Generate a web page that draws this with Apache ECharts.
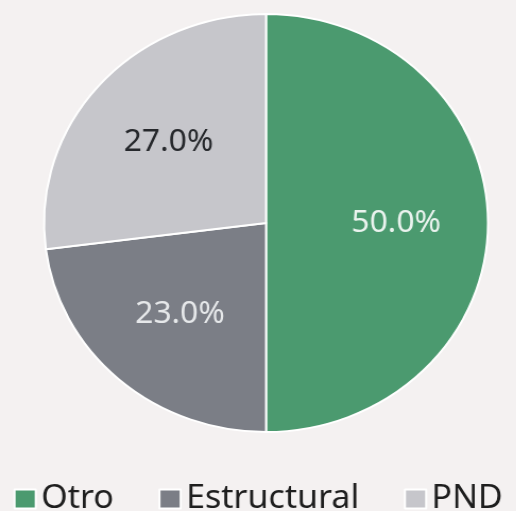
<!DOCTYPE html>
<html lang="es">
<head>
    <meta charset="UTF-8">
    <title>Distribución</title>
    <style>
        html, body { margin: 0; padding: 0; background: #f4f1f1; overflow: hidden; }
        /* the original picture is slightly stretched horizontally */
        #main { width: 486px; height: 511px; transform: scaleX(1.062); transform-origin: 0 0; }
    </style>
</head>
<body>
<div id="main"></div>
<script src="https://cdn.jsdelivr.net/npm/echarts@6/dist/echarts.min.js"></script>
<script type="text/javascript">
    var categories = ['Otro', 'Estructural', 'PND'];
    var values = [50.0, 23.0, 27.0];
    var colors = ['#4b9a6f', '#7b7e86', '#c6c6cb'];
    var labelColors = ['#eaf3ee', '#e6e8ea', '#26282c'];

    var pieData = [];
    var labelData = [];
    for (var i = 0; i < categories.length; i++) {
        pieData.push({
            name: categories[i],
            value: values[i],
            itemStyle: { color: colors[i] }
        });
        labelData.push({
            name: categories[i],
            value: values[i],
            itemStyle: { color: 'rgba(0,0,0,0)' },
            label: { color: labelColors[i] }
        });
    }

    var myChart = echarts.init(document.getElementById('main'), null, { renderer: 'canvas' });
    var option = {
        backgroundColor: '#f4f1f1',
        animation: false,
        legend: {
            data: categories,
            left: 'center',
            top: 478,
            itemWidth: 20,
            itemHeight: 19,
            itemGap: 42,
            icon: 'rect',
            textStyle: {
                fontFamily: 'Noto Sans',
                fontSize: 32,
                color: '#1e1e1e'
            }
        },
        series: [
            {
                // visible slices
                type: 'pie',
                center: [250.5, 223],
                radius: 209,
                startAngle: 90,
                clockwise: true,
                silent: true,
                itemStyle: { borderColor: '#ffffff', borderWidth: 2 },
                label: { show: false },
                labelLine: { show: false },
                data: pieData
            },
            {
                // transparent copy only for placing the percent labels further out
                type: 'pie',
                center: [250.5, 223],
                radius: [30, 209],
                startAngle: 90,
                clockwise: true,
                silent: true,
                label: {
                    show: true,
                    position: 'inside',
                    fontFamily: 'Noto Sans',
                    fontSize: 30,
                    formatter: function (p) { return p.value.toFixed(1) + '%'; }
                },
                labelLine: { show: false },
                data: labelData
            }
        ]
    };
    myChart.setOption(option);
</script>
</body>
</html>
